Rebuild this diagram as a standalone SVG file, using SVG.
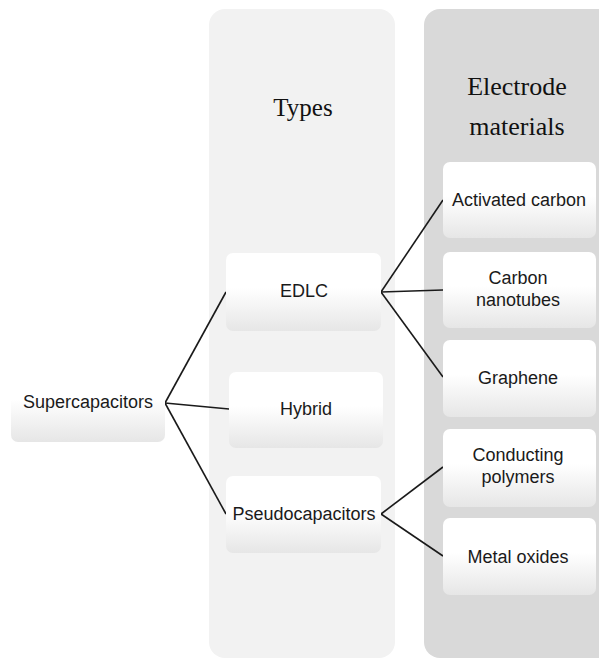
<svg xmlns="http://www.w3.org/2000/svg" width="599" height="660" viewBox="0 0 599 660">
<defs>
<linearGradient id="g" x1="0" y1="0" x2="0" y2="1">
<stop offset="0" stop-color="#ffffff"/>
<stop offset="0.45" stop-color="#ffffff"/>
<stop offset="1" stop-color="#e6e6e6"/>
</linearGradient>
</defs>
<style>
.col1{fill:#f2f2f2}
.col2{fill:#d9d9d9}
.box{fill:url(#g)}
.t{font-family:"Liberation Sans",Arial,sans-serif;font-size:18px;fill:#1a1a1a;text-anchor:middle}
.h{font-family:"Liberation Serif","Times New Roman",serif;font-size:25px;fill:#111;text-anchor:middle}
.c line{stroke:#1a1a1a;stroke-width:1.6}
</style>
<rect width="599" height="660" fill="#ffffff"/>
<g id="col-types">
<rect class="col1" x="209" y="9" width="186" height="649" rx="16"/>
<text class="h" x="303" y="116">Types</text>
</g>
<g id="col-electrode">
<rect class="col2" x="424" y="9" width="190" height="649" rx="16"/>
<text class="h" x="517" y="95" style="font-size:26px">Electrode</text>
<text class="h" x="517" y="135" style="font-size:26px">materials</text>
</g>
<g class="c" id="connectors">
<line x1="165" y1="403" x2="226" y2="292"/>
<line x1="165" y1="403" x2="229" y2="409"/>
<line x1="165" y1="403" x2="226" y2="514"/>
<line x1="381" y1="292" x2="443" y2="200"/>
<line x1="381" y1="292" x2="443" y2="290"/>
<line x1="381" y1="292" x2="443" y2="377"/>
<line x1="381" y1="514" x2="443" y2="467"/>
<line x1="381" y1="514" x2="443" y2="556"/>
</g>
<g id="supercapacitors">
<rect class="box" x="11" y="364" width="154" height="78" rx="7"/>
<text class="t" x="88" y="408">Supercapacitors</text>
</g>
<g id="edlc">
<rect class="box" x="226" y="253" width="155" height="78" rx="7"/>
<text class="t" x="304" y="297">EDLC</text>
</g>
<g id="hybrid">
<rect class="box" x="229" y="372" width="154" height="76" rx="7"/>
<text class="t" x="306" y="415">Hybrid</text>
</g>
<g id="pseudocapacitors">
<rect class="box" x="226" y="476" width="155" height="77" rx="7"/>
<text class="t" x="304" y="520">Pseudocapacitors</text>
</g>
<g id="activated-carbon">
<rect class="box" x="443" y="162" width="153" height="76" rx="7"/>
<text class="t" x="519" y="206">Activated carbon</text>
</g>
<g id="carbon-nanotubes">
<rect class="box" x="443" y="252" width="153" height="76" rx="7"/>
<text class="t" x="518" y="284">Carbon</text>
<text class="t" x="518" y="306">nanotubes</text>
</g>
<g id="graphene">
<rect class="box" x="443" y="340" width="153" height="77" rx="7"/>
<text class="t" x="518" y="384">Graphene</text>
</g>
<g id="conducting-polymers">
<rect class="box" x="443" y="429" width="153" height="78" rx="7"/>
<text class="t" x="518" y="461">Conducting</text>
<text class="t" x="518" y="483">polymers</text>
</g>
<g id="metal-oxides">
<rect class="box" x="443" y="518" width="153" height="77" rx="7"/>
<text class="t" x="518" y="563">Metal oxides</text>
</g>
</svg>
